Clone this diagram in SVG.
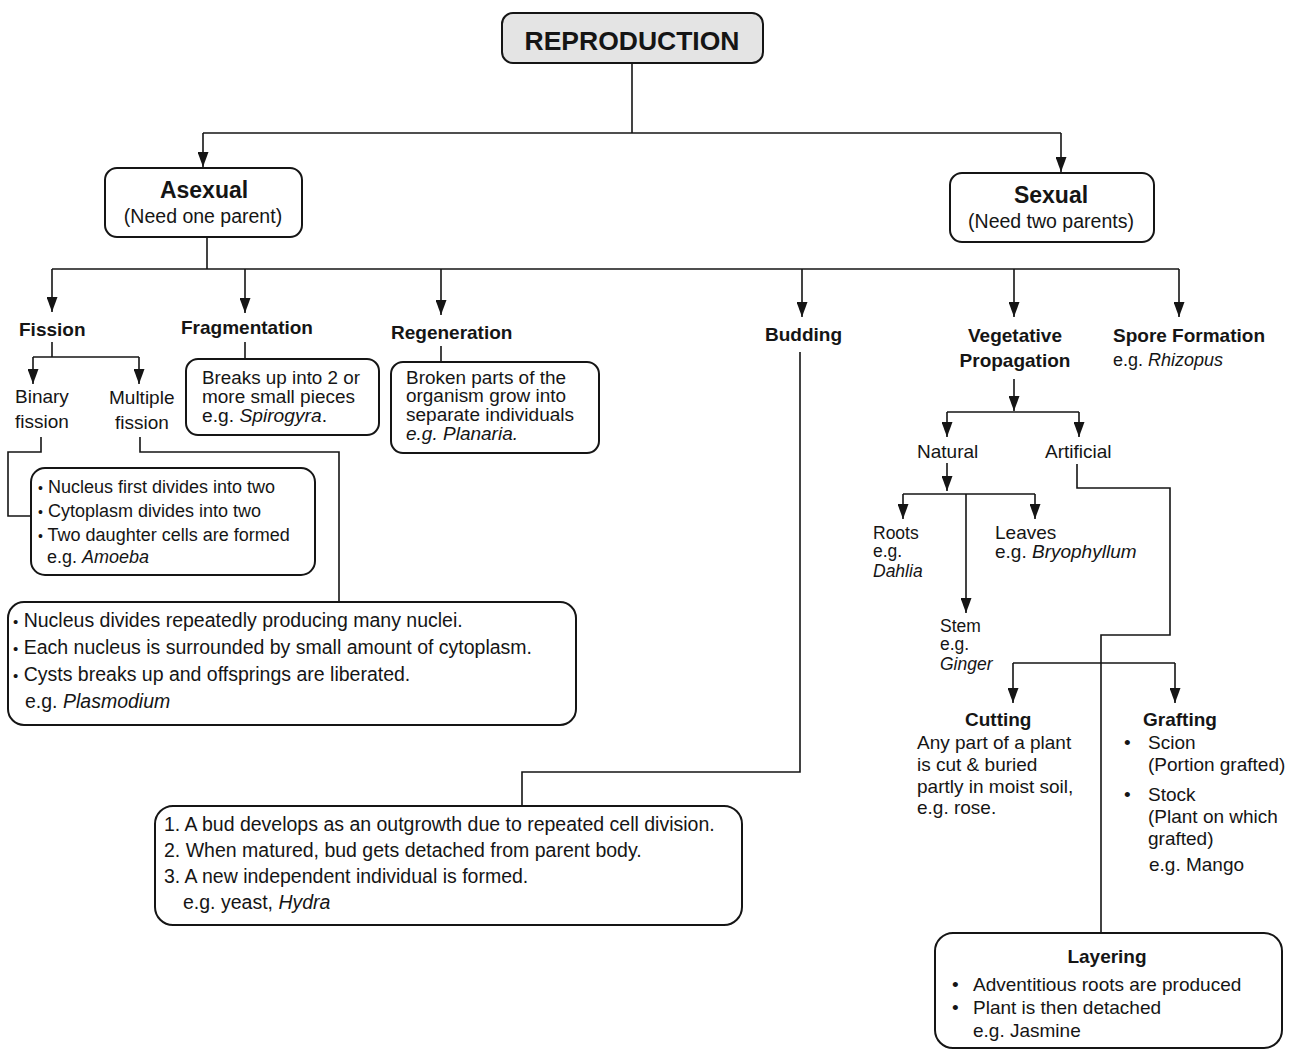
<svg xmlns="http://www.w3.org/2000/svg" width="1292" height="1050" viewBox="0 0 1292 1050">
  <style>
    .box { fill: #ffffff; stroke: #151515; stroke-width: 2; }
    .root { fill: #e4e4e4; stroke: #151515; stroke-width: 2; }
    .ln { fill: none; stroke: #151515; stroke-width: 1.6; }
    .arr { marker-end: url(#ah); }
    text { font-family: "Liberation Sans", Arial, sans-serif; fill: #151515; }
    .h { font-weight: bold; font-size: 19px; }
    .t { font-size: 19px; }
    .s { font-size: 18px; }
    .n { font-size: 17.5px; }
    .m { font-size: 19.5px; }
    .i { font-style: italic; }
    .c { text-anchor: middle; }
  </style>
  <defs>
    <marker id="ah" viewBox="0 0 15 11" refX="15" refY="5.5" markerWidth="15" markerHeight="11" markerUnits="userSpaceOnUse" orient="auto">
      <path d="M0,0 L15,5.5 L0,11 z" fill="#151515"/>
    </marker>
  </defs>
  <rect width="1292" height="1050" fill="#ffffff"/>

  <!-- connectors -->
  <g id="connectors">
    <path class="ln" d="M632,63 V133"/>
    <path class="ln" d="M203,133 H1061"/>
    <path class="ln arr" d="M203,133 V167"/>
    <path class="ln arr" d="M1061,133 V172"/>

    <path class="ln" d="M207,237 V269"/>
    <path class="ln" d="M52,269 H1179"/>
    <path class="ln arr" d="M52,269 V312"/>
    <path class="ln arr" d="M245,269 V313"/>
    <path class="ln arr" d="M441,269 V315"/>
    <path class="ln arr" d="M802,269 V317"/>
    <path class="ln arr" d="M1014,269 V317"/>
    <path class="ln arr" d="M1179,269 V317"/>

    <path class="ln" d="M52,342 V357"/>
    <path class="ln" d="M33,357 H139"/>
    <path class="ln arr" d="M33,357 V384"/>
    <path class="ln arr" d="M139,357 V384"/>
    <path class="ln" d="M245,342 V359"/>
    <path class="ln" d="M441,346 V362"/>

    <path class="ln" d="M41,437 V452 H8 V516 H31"/>
    <path class="ln" d="M140,437 V452 H339 V602"/>

    <path class="ln" d="M800,352 V772 H522 V806"/>

    <path class="ln arr" d="M1014,379 V411"/>
    <path class="ln" d="M947,412 H1079"/>
    <path class="ln arr" d="M947,412 V437"/>
    <path class="ln arr" d="M1079,412 V437"/>

    <path class="ln arr" d="M947,463 V491"/>
    <path class="ln" d="M903,494 H1035"/>
    <path class="ln arr" d="M903,494 V519"/>
    <path class="ln arr" d="M1035,494 V519"/>
    <path class="ln arr" d="M966,494 V613"/>

    <path class="ln" d="M1077,464 V488 H1170 V635 H1101 V933"/>
    <path class="ln" d="M1013,663 H1175"/>
    <path class="ln arr" d="M1013,663 V703"/>
    <path class="ln arr" d="M1175,663 V703"/>
  </g>

  <!-- root -->
  <g id="reproduction">
    <rect class="root" x="502" y="13" width="261" height="50" rx="11"/>
    <text class="c" x="632" y="50" font-size="26.5" font-weight="bold">REPRODUCTION</text>
  </g>

  <g id="asexual">
    <rect class="box" x="105" y="168" width="197" height="69" rx="12"/>
    <text class="c" x="204" y="198" font-size="23" font-weight="bold">Asexual</text>
    <text class="c m" x="203" y="223">(Need one parent)</text>
  </g>

  <g id="sexual">
    <rect class="box" x="950" y="173" width="204" height="69" rx="12"/>
    <text class="c" x="1051" y="203" font-size="23" font-weight="bold">Sexual</text>
    <text class="c m" x="1051" y="228">(Need two parents)</text>
  </g>

  <!-- asexual methods -->
  <g id="fission">
    <text class="h" x="19" y="336">Fission</text>
  </g>
  <g id="binary-fission">
    <text class="t" x="15" y="403">Binary</text>
    <text class="t" x="15" y="428">fission</text>
  </g>
  <g id="multiple-fission">
    <text class="t" x="109" y="404">Multiple</text>
    <text class="t" x="115" y="429">fission</text>
  </g>
  <g id="binary-detail">
    <rect class="box" x="31" y="468" width="284" height="107" rx="14"/>
    <text class="s" x="38" y="493"><tspan font-size="14">•</tspan> Nucleus first divides into two</text>
    <text class="s" x="38" y="517"><tspan font-size="14">•</tspan> Cytoplasm divides into two</text>
    <text class="s" x="38" y="541"><tspan font-size="14">•</tspan> Two daughter cells are formed</text>
    <text class="s" x="47" y="563">e.g. <tspan class="i">Amoeba</tspan></text>
  </g>
  <g id="multiple-detail">
    <rect class="box" x="8" y="602" width="568" height="123" rx="16"/>
    <text class="m" x="13" y="627"><tspan font-size="15">•</tspan> Nucleus divides repeatedly producing many nuclei.</text>
    <text class="m" x="13" y="654"><tspan font-size="15">•</tspan> Each nucleus is surrounded by small amount of cytoplasm.</text>
    <text class="m" x="13" y="681"><tspan font-size="15">•</tspan> Cysts breaks up and offsprings are liberated.</text>
    <text class="m" x="25" y="708">e.g. <tspan class="i">Plasmodium</tspan></text>
  </g>

  <g id="fragmentation">
    <text class="h" x="181" y="334">Fragmentation</text>
    <rect class="box" x="186" y="359" width="193" height="76" rx="12"/>
    <text class="n" x="202" y="384" textLength="158" lengthAdjust="spacingAndGlyphs">Breaks up into 2 or</text>
    <text class="n" x="202" y="403" textLength="153" lengthAdjust="spacingAndGlyphs">more small pieces</text>
    <text class="n" x="202" y="422" textLength="125" lengthAdjust="spacingAndGlyphs">e.g. <tspan class="i">Spirogyra</tspan>.</text>
  </g>

  <g id="regeneration">
    <text class="h" x="391" y="339">Regeneration</text>
    <rect class="box" x="391" y="362" width="208" height="91" rx="12"/>
    <text class="n" x="406" y="384" textLength="160" lengthAdjust="spacingAndGlyphs">Broken parts of the</text>
    <text class="n" x="406" y="402" textLength="160" lengthAdjust="spacingAndGlyphs">organism grow into</text>
    <text class="n" x="406" y="421" textLength="168" lengthAdjust="spacingAndGlyphs">separate individuals</text>
    <text class="n i" x="406" y="440" textLength="112" lengthAdjust="spacingAndGlyphs">e.g. Planaria.</text>
  </g>

  <g id="budding">
    <text class="h" x="765" y="341">Budding</text>
  </g>
  <g id="budding-detail">
    <rect class="box" x="155" y="806" width="587" height="119" rx="18"/>
    <text class="m" x="164" y="831">1. A bud develops as an outgrowth due to repeated cell division.</text>
    <text class="m" x="164" y="857">2. When matured, bud gets detached from parent body.</text>
    <text class="m" x="164" y="883">3. A new independent individual is formed.</text>
    <text class="m" x="183" y="909">e.g. yeast, <tspan class="i">Hydra</tspan></text>
  </g>

  <g id="vegetative-propagation">
    <text class="h c" x="1015" y="342">Vegetative</text>
    <text class="h c" x="1015" y="367">Propagation</text>
  </g>

  <g id="spore-formation">
    <text class="h" x="1113" y="342" font-size="18">Spore Formation</text>
    <text class="s" x="1113" y="366">e.g. <tspan class="i">Rhizopus</tspan></text>
  </g>

  <!-- vegetative propagation branches -->
  <g id="natural">
    <text class="t" x="917" y="458">Natural</text>
  </g>
  <g id="artificial">
    <text class="t" x="1045" y="458">Artificial</text>
  </g>
  <g id="roots">
    <text class="n" x="873" y="539">Roots</text>
    <text class="n" x="873" y="557">e.g.</text>
    <text class="n i" x="873" y="577">Dahlia</text>
  </g>
  <g id="leaves">
    <text class="t" x="995" y="539">Leaves</text>
    <text class="t" x="995" y="558">e.g. <tspan class="i">Bryophyllum</tspan></text>
  </g>
  <g id="stem">
    <text class="n" x="940" y="632">Stem</text>
    <text class="n" x="940" y="650">e.g.</text>
    <text class="n i" x="940" y="670">Ginger</text>
  </g>

  <g id="cutting">
    <text class="h" x="965" y="726">Cutting</text>
    <text class="t" x="917" y="749">Any part of a plant</text>
    <text class="t" x="917" y="771">is cut &amp; buried</text>
    <text class="t" x="917" y="793">partly in moist soil,</text>
    <text class="t" x="917" y="814">e.g. rose.</text>
  </g>

  <g id="grafting">
    <text class="h" x="1143" y="726">Grafting</text>
    <text class="t" x="1124" y="749">•</text>
    <text class="t" x="1148" y="749">Scion</text>
    <text class="t" x="1148" y="771">(Portion grafted)</text>
    <text class="t" x="1124" y="801">•</text>
    <text class="t" x="1148" y="801">Stock</text>
    <text class="t" x="1148" y="823">(Plant on which</text>
    <text class="t" x="1148" y="845">grafted)</text>
    <text class="t" x="1149" y="871">e.g. Mango</text>
  </g>

  <g id="layering">
    <rect class="box" x="935" y="933" width="347" height="115" rx="18"/>
    <text class="h c" x="1107" y="963">Layering</text>
    <text class="t" x="952" y="991">•</text>
    <text class="t" x="973" y="991">Adventitious roots are produced</text>
    <text class="t" x="952" y="1014">•</text>
    <text class="t" x="973" y="1014">Plant is then detached</text>
    <text class="t" x="973" y="1037">e.g. Jasmine</text>
  </g>
</svg>
